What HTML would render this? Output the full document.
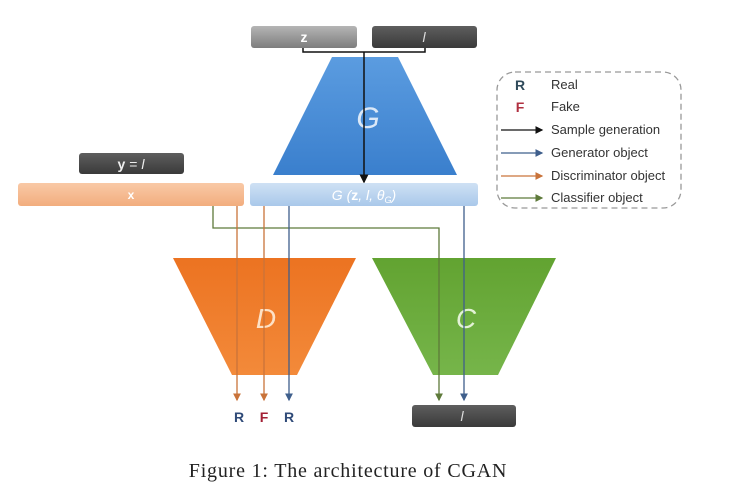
<!DOCTYPE html>
<html><head><meta charset="utf-8"><style>
html,body{margin:0;padding:0;background:#fff;width:740px;height:502px;overflow:hidden}
svg{display:block}
</style></head><body>
<svg width="740" height="502" viewBox="0 0 740 502" xmlns="http://www.w3.org/2000/svg" font-family="Liberation Sans, sans-serif">
<defs>
<linearGradient id="gz" x1="0" y1="0" x2="0" y2="1"><stop offset="0" stop-color="#b5b5b5"/><stop offset="1" stop-color="#7d7d7d"/></linearGradient>
<linearGradient id="gd" x1="0" y1="0" x2="0" y2="1"><stop offset="0" stop-color="#5e5e5e"/><stop offset="1" stop-color="#3a3a3a"/></linearGradient>
<linearGradient id="gx" x1="0" y1="0" x2="0" y2="1"><stop offset="0" stop-color="#f9c9a6"/><stop offset="1" stop-color="#f2ad7e"/></linearGradient>
<linearGradient id="gg" x1="0" y1="0" x2="0" y2="1"><stop offset="0" stop-color="#cfe1f4"/><stop offset="1" stop-color="#a9c8ea"/></linearGradient>
<linearGradient id="gG" x1="0" y1="0" x2="0" y2="1"><stop offset="0" stop-color="#5b9ce0"/><stop offset="1" stop-color="#3a7fcd"/></linearGradient>
<linearGradient id="gD" x1="0" y1="0" x2="0" y2="1"><stop offset="0" stop-color="#ec7321"/><stop offset="1" stop-color="#f38a3a"/></linearGradient>
<linearGradient id="gC" x1="0" y1="0" x2="0" y2="1"><stop offset="0" stop-color="#62a331"/><stop offset="1" stop-color="#76b54a"/></linearGradient>
<marker id="ak" markerWidth="6" markerHeight="6" refX="5" refY="3" orient="auto"><path d="M0,0 L6,3 L0,6z" fill="#111"/></marker>
<marker id="ab" markerWidth="6" markerHeight="6" refX="5" refY="3" orient="auto"><path d="M0,0 L6,3 L0,6z" fill="#3f5f8c"/></marker>
<marker id="ao" markerWidth="6" markerHeight="6" refX="5" refY="3" orient="auto"><path d="M0,0 L6,3 L0,6z" fill="#c9733a"/></marker>
<marker id="ag" markerWidth="6" markerHeight="6" refX="5" refY="3" orient="auto"><path d="M0,0 L6,3 L0,6z" fill="#5e7a3a"/></marker>
</defs>

<rect x="251" y="26" width="106" height="22" rx="3" fill="url(#gz)"/>
<text x="304" y="42" fill="#fff" font-size="14" font-weight="bold" text-anchor="middle">z</text>
<rect x="372" y="26" width="105" height="22" rx="3" fill="url(#gd)"/>
<text x="424" y="42" fill="#ddd" font-size="14" font-style="italic" text-anchor="middle">l</text>

<polygon points="332,57 398,57 457,175 273,175" fill="url(#gG)"/>
<text x="368" y="128" fill="#dbe8f7" font-size="30" font-style="italic" text-anchor="middle">G</text>

<polyline points="303,48 303,52 425,52 425,48" fill="none" stroke="#111" stroke-width="1.5"/>
<line x1="364" y1="52" x2="364" y2="182" stroke="#111" stroke-width="1.5" marker-end="url(#ak)"/>

<rect x="79" y="153" width="105" height="21" rx="3" fill="url(#gd)"/>
<text x="131" y="169" fill="#eee" font-size="14" text-anchor="middle"><tspan font-weight="bold">y</tspan> = <tspan font-style="italic">l</tspan></text>

<rect x="18" y="183" width="226" height="23" rx="3" fill="url(#gx)"/>
<text x="131" y="199" fill="#fff" font-size="12" font-weight="bold" text-anchor="middle">x</text>
<rect x="250" y="183" width="228" height="23" rx="3" fill="url(#gg)"/>
<text x="364" y="200" fill="#fff" font-size="14" font-style="italic" text-anchor="middle">G (<tspan font-weight="bold" font-style="normal">z</tspan>, l, θ<tspan font-size="9" dy="3">G</tspan><tspan dy="-3">)</tspan></text>

<polygon points="173,258 356,258 297,375 232,375" fill="url(#gD)"/>
<text x="266" y="328" fill="#fde1c6" font-size="28" font-style="italic" text-anchor="middle">D</text>
<polygon points="372,258 556,258 498,375 433,375" fill="url(#gC)"/>
<text x="466" y="328" fill="#e3f2d6" font-size="28" font-style="italic" text-anchor="middle">C</text>

<polyline points="213,206 213,228 439,228 439,400" fill="none" stroke="#5e7a3a" stroke-width="1.3" marker-end="url(#ag)"/>
<line x1="237" y1="206" x2="237" y2="400" stroke="#c9733a" stroke-width="1.3" marker-end="url(#ao)"/>
<line x1="264" y1="206" x2="264" y2="400" stroke="#c9733a" stroke-width="1.3" marker-end="url(#ao)"/>
<line x1="289" y1="206" x2="289" y2="400" stroke="#3f5f8c" stroke-width="1.3" marker-end="url(#ab)"/>
<line x1="464" y1="206" x2="464" y2="400" stroke="#3f5f8c" stroke-width="1.3" marker-end="url(#ab)"/>

<text x="239" y="422" fill="#2f4a78" font-size="14" font-weight="bold" text-anchor="middle">R</text>
<text x="264" y="422" fill="#a32035" font-size="14" font-weight="bold" text-anchor="middle">F</text>
<text x="289" y="422" fill="#2f4a78" font-size="14" font-weight="bold" text-anchor="middle">R</text>
<rect x="412" y="405" width="104" height="22" rx="3" fill="url(#gd)"/>
<text x="462" y="421" fill="#ddd" font-size="14" font-style="italic" text-anchor="middle">l</text>

<rect x="497" y="72" width="184" height="136" rx="18" fill="none" stroke="#999" stroke-width="1.3" stroke-dasharray="6,4"/>
<text x="520" y="90" fill="#2f4a5a" font-size="14" font-weight="bold" text-anchor="middle">R</text>
<text x="520" y="112" fill="#b03040" font-size="14" font-weight="bold" text-anchor="middle">F</text>
<g font-size="13" fill="#333">
<text x="551" y="89">Real</text>
<text x="551" y="111">Fake</text>
<text x="551" y="134">Sample generation</text>
<text x="551" y="157">Generator object</text>
<text x="551" y="180">Discriminator object</text>
<text x="551" y="202">Classifier object</text>
</g>
<line x1="501" y1="130" x2="542" y2="130" stroke="#111" stroke-width="1.3" marker-end="url(#ak)"/>
<line x1="501" y1="153" x2="542" y2="153" stroke="#3f5f8c" stroke-width="1.3" marker-end="url(#ab)"/>
<line x1="501" y1="176" x2="542" y2="176" stroke="#c9733a" stroke-width="1.3" marker-end="url(#ao)"/>
<line x1="501" y1="198" x2="542" y2="198" stroke="#5e7a3a" stroke-width="1.3" marker-end="url(#ag)"/>

<text x="348" y="477" fill="#222" font-size="20" letter-spacing="0.8" font-family="Liberation Serif, serif" text-anchor="middle">Figure 1:  The architecture of CGAN</text>
</svg>
</body></html>
